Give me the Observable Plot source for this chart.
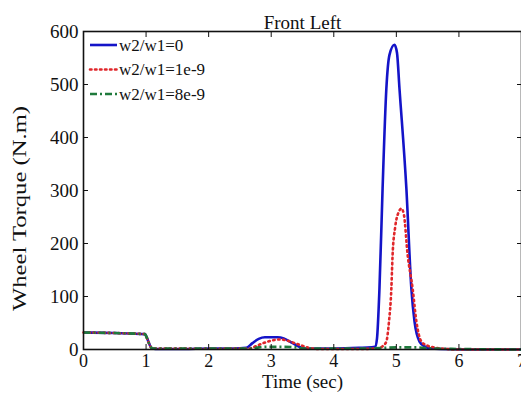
<!DOCTYPE html>
<html>
<head>
<meta charset="utf-8">
<script src="https://cdn.jsdelivr.net/npm/d3@7"></script>
<script src="https://cdn.jsdelivr.net/npm/@observablehq/plot@0.6"></script>
<style>
  html, body { margin: 0; padding: 0; background: #fff; }
  #chart { width: 521px; height: 398px; overflow: hidden; }
</style>
</head>
<body>
<div id="chart"></div>
<script>
const title = "Front Left";
const xLabel = "Time (sec)";
const yLabel = "Wheel Torque (N.m)";
const xTicks = [0, 1, 2, 3, 4, 5, 6, 7];
const yTicks = [0, 100, 200, 300, 400, 500, 600];
const seriesNames = ["w2/w1=0", "w2/w1=1e-9", "w2/w1=8e-9"];
const seriesColors = ["#1414c8", "#e0262a", "#1f7a3c"];
const seriesDash = [null, "1.5,3.5", "7,3,2,3"];

// w2/w1 = 0
const t0 = [0, 0.5, 0.98, 1.02, 1.06, 1.1, 1.2, 1.6, 2.0, 2.4, 2.6, 2.7, 2.8, 2.9, 3.0, 3.1, 3.2, 3.3, 3.4, 3.5, 3.6, 4.0, 4.4, 4.6, 4.66, 4.69, 4.73, 4.78, 4.84, 4.89, 4.97, 5.01, 5.05, 5.16, 5.24, 5.29, 5.37, 5.45, 5.55, 5.7, 6.5, 7];
const v0 = [32, 31, 29, 20, 8, 2, 1, 1, 2, 2, 3, 12, 20, 23, 23, 23, 21, 15, 8, 3, 2, 2, 3, 4, 5, 20, 115, 304, 492, 556, 575, 560, 492, 304, 115, 53, 15, 6, 2, 1, 0, 0];
// w2/w1 = 1e-9
const t1 = [0, 0.5, 0.98, 1.02, 1.06, 1.1, 2.0, 2.65, 2.75, 2.85, 2.95, 3.05, 3.15, 3.25, 3.35, 3.45, 3.55, 3.65, 3.75, 4.4, 4.7, 4.78, 4.84, 4.88, 4.92, 4.94, 4.98, 5.04, 5.08, 5.12, 5.18, 5.26, 5.32, 5.4, 5.5, 5.6, 5.8, 6.0, 7];
const v1 = [32, 31, 29, 20, 8, 2, 1.5, 2, 6, 11, 15, 18, 19, 17, 13, 9, 5, 2, 1, 1, 2, 6, 15, 50, 115, 179, 230, 260, 266, 255, 179, 115, 53, 15, 7, 4, 1, 0, 0];
// w2/w1 = 8e-9
const t2 = [0, 0.5, 0.98, 1.02, 1.06, 1.1, 2.0, 2.7, 2.8, 2.9, 3.2, 3.4, 3.5, 4.5, 4.8, 5.0, 5.3, 5.6, 6.0, 7];
const v2 = [32, 31, 29, 20, 8, 2, 2, 2, 4, 5, 5, 4, 2, 2, 3, 4, 4, 2, 1, 0];

const times = [t0, t1, t2];
const values = [v0, v1, v2];
const rows = [];
seriesNames.forEach((name, i) => {
  times[i].forEach((t, j) => rows.push({series: name, t, v: values[i][j]}));
});

const font = "'Liberation Serif', 'Times New Roman', serif";

const lineMarks = seriesNames.map((name, i) =>
  Plot.line(rows.filter(d => d.series === name), {
    x: "t", y: "v", curve: "monotone-x",
    stroke: seriesColors[i], strokeWidth: 2.6,
    strokeDasharray: seriesDash[i] || undefined,
    strokeLinecap: i === 1 ? "round" : "butt"
  })
);

const plot = Plot.plot({
  width: 521,
  height: 398,
  marginTop: 31,
  marginBottom: 49,
  marginLeft: 83,
  marginRight: 0,
  style: {fontFamily: font, fontSize: "19px", color: "#111", background: "#fff"},
  x: {domain: [0, 7]},
  y: {domain: [0, 600]},
  marks: [
    ...lineMarks,
    Plot.frame({stroke: "#111", strokeWidth: 1.6}),
    Plot.axisX({ticks: xTicks, tickSize: -5, tickPadding: 10, label: null, fontSize: 18, tickFormat: d3.format("d")}),
    Plot.axisX({anchor: "top", ticks: xTicks, tickSize: -5, label: null, tickFormat: () => ""}),
    Plot.axisY({ticks: yTicks, tickSize: -5, tickPadding: 10, label: null, fontSize: 19, tickFormat: d3.format("d")}),
    Plot.axisY({anchor: "right", ticks: yTicks, tickSize: -5, label: null, tickFormat: () => ""}),
    Plot.text([title], {frameAnchor: "top", dy: -16, fontSize: 19}),
    Plot.text([xLabel], {frameAnchor: "bottom", dy: 38, fontSize: 19}),
    Plot.text([yLabel], {frameAnchor: "left", textAnchor: "middle", dx: -64, dy: 18, rotate: -90, fontSize: 19, className: "ylab"})
  ]
});

document.getElementById("chart").appendChild(plot);

const svg = d3.select(plot);
// stretch the rotated y label to the reference's length
svg.selectAll(".ylab text").attr("textLength", 205).attr("lengthAdjust", "spacingAndGlyphs");

// Legend inside the plot, top-left
const lg = svg.append("g").attr("font-family", font).attr("font-size", 17).attr("text-anchor", "start");
seriesNames.forEach((name, i) => {
  const y = 45 + i * 24.5;
  lg.append("line")
    .attr("x1", 90).attr("x2", 117).attr("y1", y).attr("y2", y)
    .attr("stroke", seriesColors[i]).attr("stroke-width", 2.6)
    .attr("stroke-dasharray", seriesDash[i])
    .attr("stroke-linecap", i === 1 ? "round" : "butt");
  lg.append("text")
    .attr("x", 119).attr("y", y).attr("dy", "0.35em")
    .attr("fill", "#111").text(name);
});
</script>
</body>
</html>
